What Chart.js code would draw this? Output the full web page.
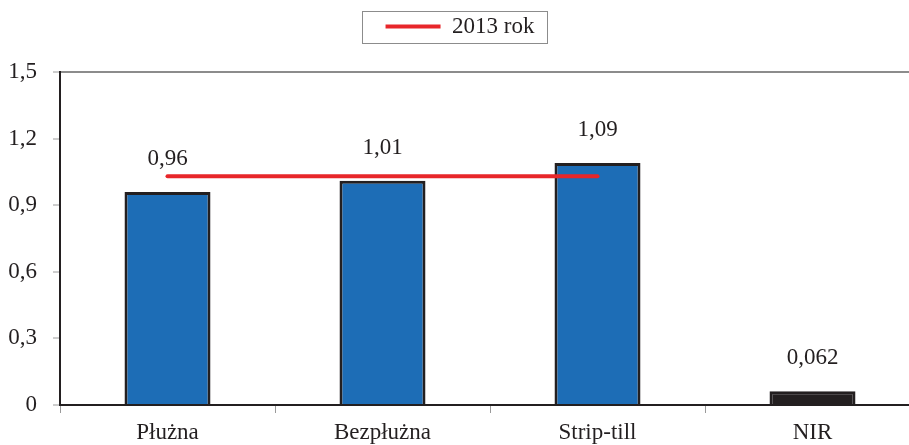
<!DOCTYPE html>
<html>
<head>
<meta charset="utf-8">
<script src="https://cdn.jsdelivr.net/npm/chart.js@4"></script>
<style>
  html, body { margin: 0; padding: 0; background: #fff; overflow: hidden; }
  #wrap { width: 925px; height: 445px; }
</style>
</head>
<body>
<div id="wrap"><canvas id="chart"></canvas></div>
<script>
// dane z wykresu
const categories = ['Płużna', 'Bezpłużna', 'Strip-till', 'NIR'];
const barValues = [0.96, 1.01, 1.09, 0.062];
const barLabels = ['0,96', '1,01', '1,09', '0,062'];
const lineValues = [1.03, 1.03, 1.03, null];
const lineName = '2013 rok';
const yTicks = [0, 0.3, 0.6, 0.9, 1.2, 1.5];

const FONT = "'Liberation Serif', 'Times New Roman', serif";

// odstęp pod legendą
const legendGap = {
    id: 'legendGap',
    beforeInit(chart) {
        const fit = chart.legend.fit;
        chart.legend.fit = function () {
            fit.bind(chart.legend)();
            this.height += 24;
        };
    }
};

// ramka wokół legendy + etykiety nad słupkami
const extras = {
    id: 'extras',
    afterDraw(chart) {
        const ctx = chart.ctx;
        const hb = chart.legend.legendHitBoxes[0];
        if (hb) {
            ctx.save();
            ctx.strokeStyle = '#8c8c8c';
            ctx.lineWidth = 1;
            ctx.strokeRect(Math.round(hb.left - 24) + 0.5, Math.round(hb.top + hb.height / 2 - 16) + 0.5, Math.round(hb.width + 36), 32);
            ctx.restore();
        }
        const meta = chart.getDatasetMeta(1);
        ctx.save();
        ctx.font = '23px ' + FONT;
        ctx.fillStyle = '#231f20';
        ctx.textAlign = 'center';
        ctx.textBaseline = 'middle';
        meta.data.forEach((bar, i) => {
            ctx.fillText(barLabels[i], bar.x, bar.y - 33);
        });
        ctx.restore();
    }
};

const ctx = document.getElementById('chart');

new Chart(ctx, {
    data: {
        labels: categories,
        datasets: [
            {
                type: 'line',
                label: lineName,
                data: lineValues,
                borderColor: '#e8262a',
                backgroundColor: '#e8262a',
                borderWidth: 4,
                borderCapStyle: 'round',
                pointRadius: 0,
                order: 0
            },
            {
                type: 'bar',
                label: 'plon',
                data: barValues,
                backgroundColor: ['#1d6db6', '#1d6db6', '#1d6db6', '#231f20'],
                borderColor: '#231f20',
                borderWidth: 3,
                barPercentage: 0.4,
                categoryPercentage: 1,
                order: 1
            }
        ]
    },
    options: {
        responsive: true,
        maintainAspectRatio: false,
        animation: false,
        layout: { padding: { top: 1, right: 5, left: 0, bottom: 0 } },
        plugins: {
            legend: {
                position: 'top',
                labels: {
                    filter: item => item.datasetIndex === 0,
                    usePointStyle: true,
                    pointStyle: 'line',
                    pointStyleWidth: 55,
                    boxWidth: 55,
                    boxHeight: 4,
                    color: '#231f20',
                    font: { family: FONT, size: 23 },
                    padding: 14
                }
            },
            tooltip: { enabled: false }
        },
        scales: {
            x: {
                afterFit: scale => { scale.height = 40; },
                grid: {
                    offset: true,
                    drawOnChartArea: false,
                    tickLength: 8,
                    tickColor: '#9a9a9a'
                },
                border: { color: '#231f20', width: 2 },
                ticks: {
                    color: '#231f20',
                    font: { family: FONT, size: 23 },
                    padding: 6
                }
            },
            y: {
                min: 0,
                max: 1.5,
                afterBuildTicks: scale => {
                    scale.ticks = yTicks.map(v => ({ value: v }));
                },
                afterFit: scale => { scale.width = 60; },
                grid: {
                    color: c => (c.tick && c.tick.value === 1.5 ? '#8c8c8c' : 'transparent'),
                    lineWidth: 2,
                    tickLength: 7,
                    tickColor: '#9a9a9a',
                    tickWidth: 1
                },
                border: { color: '#231f20', width: 2 },
                ticks: {
                    color: '#231f20',
                    font: { family: FONT, size: 23 },
                    padding: 16,
                    callback: v => String(v).replace('.', ',')
                }
            }
        }
    },
    plugins: [legendGap, extras]
});
</script>
</body>
</html>
